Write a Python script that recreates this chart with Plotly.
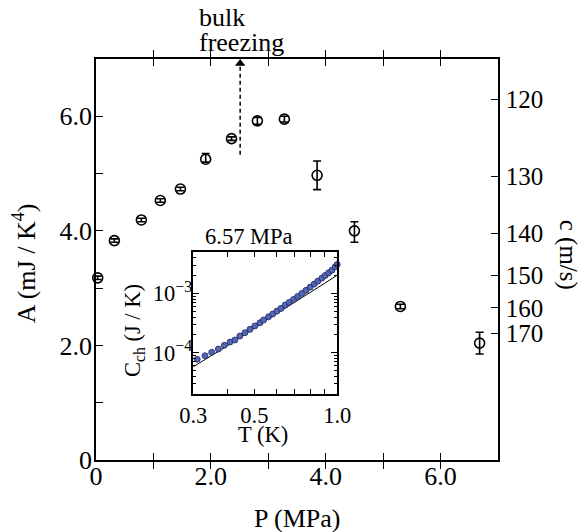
import math
import plotly.graph_objects as go

# ---------------- main data ----------------
P_MPA = [0.03, 0.32, 0.79, 1.12, 1.47, 1.91, 2.36, 2.81, 3.28, 3.85, 4.50, 5.30, 6.68]
A_VAL = [3.18, 3.83, 4.19, 4.53, 4.73, 5.25, 5.61, 5.92, 5.95, 4.97, 4.00, 2.68, 2.04]
A_ERR_PLUS = [0.03, 0.03, 0.03, 0.03, 0.03, 0.10, 0.03, 0.06, 0.05, 0.25, 0.16, 0.04, 0.19]
A_ERR_MINUS = [0.03, 0.03, 0.03, 0.03, 0.03, 0.05, 0.03, 0.06, 0.05, 0.25, 0.20, 0.04, 0.19]

P_TICKS = [0, 1, 2, 3, 4, 5, 6, 7]
P_TICKTEXT = ["0", "", "2.0", "", "4.0", "", "6.0", ""]
A_TICKS = [0, 1, 2, 3, 4, 5, 6, 7]
A_TICKTEXT = ["0", "", "2.0", "", "4.0", "", "6.0", ""]

# right axis: sound velocity c (A ~ c^-3, Debye)
C_TICKS = [120, 130, 140, 150, 160, 170]
A_AT_C120 = 6.29

# bulk freezing marker
P_FREEZE = 2.51
A_ARROW_START = 5.33
A_ARROW_END = 6.92

# ---------------- inset data ----------------
T_INSET = [0.310, 0.331, 0.350, 0.370, 0.389, 0.408, 0.425, 0.443, 0.462, 0.482,
           0.502, 0.524, 0.540, 0.563, 0.583, 0.604, 0.625, 0.647, 0.669, 0.694,
           0.718, 0.744, 0.770, 0.798, 0.825, 0.851, 0.880, 0.905, 0.931, 0.957,
           0.983, 1.000]
C_INSET = [7.74e-5, 8.89e-5, 1.016e-4, 1.153e-4, 1.334e-4, 1.514e-4, 1.637e-4, 1.910e-4,
           2.173e-4, 2.477e-4, 2.825e-4, 3.199e-4, 3.556e-4, 4.036e-4, 4.477e-4, 5.035e-4,
           5.585e-4, 6.353e-4, 7.047e-4, 7.925e-4, 8.892e-4, 1.000e-3, 1.125e-3, 1.276e-3,
           1.435e-3, 1.611e-3, 1.811e-3, 2.009e-3, 2.223e-3, 2.466e-3, 2.805e-3, 3.076e-3]
T_LINE = [0.3, 0.4, 0.5, 0.6, 0.7, 0.8, 0.9, 1.0]
C_LINE = [5.81e-5, 1.32e-4, 2.60e-4, 4.52e-4, 7.08e-4, 1.047e-3, 1.479e-3, 2.03e-3]

T_TICKS = [0.3, 0.4, 0.5, 0.6, 0.7, 0.8, 0.9, 1.0]
T_TICKTEXT = ["0.3", "", "0.5", "", "", "", "", "1.0"]
CCH_TICKS = [1e-4, 1e-3]
CCH_TICKTEXT = ["10<sup>\u22124</sup>", "10<sup>\u22123</sup>"]
CCH_MINOR = [m * 10.0 ** e for e in (-5, -4, -3) for m in range(2, 10)]

FONT = "Liberation Serif"
FS = 26
FS_RIGHT = 25
FS_IN = 22.5

fig = go.Figure()

# main data
fig.add_trace(go.Scatter(
    x=P_MPA, y=A_VAL, mode="markers", xaxis="x", yaxis="y",
    marker=dict(symbol="circle-open", size=10, color="black", line=dict(width=1.6, color="black")),
    error_y=dict(type="data", symmetric=False, array=A_ERR_PLUS, arrayminus=A_ERR_MINUS,
                 color="black", thickness=1.6, width=4),
    cliponaxis=False, showlegend=False, hoverinfo="skip"))

# bulk freezing dashed arrow
fig.add_trace(go.Scatter(
    x=[P_FREEZE, P_FREEZE], y=[A_ARROW_START, A_ARROW_END], mode="lines", xaxis="x", yaxis="y",
    line=dict(color="black", width=1.5, dash="4px,3px"), showlegend=False, hoverinfo="skip"))
fig.add_trace(go.Scatter(
    x=[P_FREEZE], y=[A_ARROW_END], mode="markers", xaxis="x", yaxis="y",
    marker=dict(symbol="triangle-up", size=9, color="black"), cliponaxis=False,
    showlegend=False, hoverinfo="skip"))

# dummy trace so right axis is drawn
fig.add_trace(go.Scatter(x=[None], y=[None], xaxis="x", yaxis="y2", showlegend=False))

# inset
fig.add_trace(go.Scatter(
    x=T_LINE, y=C_LINE, mode="lines", xaxis="x2", yaxis="y3",
    line=dict(color="black", width=1), line_shape="spline", showlegend=False, hoverinfo="skip"))
fig.add_trace(go.Scatter(
    x=T_INSET, y=C_INSET, mode="markers", xaxis="x2", yaxis="y3",
    marker=dict(symbol="circle", size=6, color="#5566b2", line=dict(width=0.8, color="#1c2566")),
    cliponaxis=False, showlegend=False, hoverinfo="skip"))

c_tick_pos = [A_AT_C120 * (120.0 / c) ** 3 for c in C_TICKS]

axis_common = dict(showgrid=False, zeroline=False, showline=True, linecolor="black", linewidth=1.5,
                   ticks="inside", tickcolor="black", tickwidth=1.3)
main_font = dict(family=FONT, size=FS, color="black")
right_font = dict(family=FONT, size=FS_RIGHT, color="black")
inset_font = dict(family=FONT, size=FS_IN, color="black")

fig.update_layout(
    width=583, height=532,
    margin=dict(l=96, r=85, t=59, b=72),
    paper_bgcolor="white", plot_bgcolor="white",
    font=dict(family=FONT, size=FS, color="black"),
    xaxis=dict(domain=[0, 1], range=[0, 7], tickmode="array", tickvals=P_TICKS, ticktext=P_TICKTEXT,
               ticklen=7, mirror="allticks", anchor="y", ticklabelstandoff=-8, tickfont=main_font,
               **axis_common),
    yaxis=dict(domain=[0, 1], range=[0, 7], tickmode="array", tickvals=A_TICKS, ticktext=A_TICKTEXT,
               ticklen=7, anchor="x", ticklabelstandoff=-3, tickfont=main_font, **axis_common),
    yaxis2=dict(overlaying="y", side="right", range=[0, 7], tickmode="array", tickvals=c_tick_pos,
                ticktext=[str(c) for c in C_TICKS], ticklen=7, anchor="x", ticklabelstandoff=1,
                tickfont=right_font, **axis_common),
    xaxis2=dict(domain=[0.242, 0.600], anchor="y3", type="log",
                range=[math.log10(0.3), 0], tickmode="array", tickvals=T_TICKS, ticktext=T_TICKTEXT,
                ticklen=5, mirror="allticks", tickfont=inset_font, **axis_common),
    yaxis3=dict(domain=[0.164, 0.519], anchor="x2", type="log",
                range=[-4.7, -2.3], tickmode="array", tickvals=CCH_TICKS, ticktext=CCH_TICKTEXT,
                ticklen=6, mirror="allticks", ticklabelstandoff=-5, tickfont=inset_font,
                minor=dict(tickmode="array", tickvals=CCH_MINOR, ticks="inside", ticklen=3,
                           tickcolor="black", tickwidth=1),
                **axis_common),
)

ann = [
    dict(text="P (MPa)", x=0.5, y=-0.145, xref="paper", yref="paper", showarrow=False,
         xanchor="center", yanchor="middle", font=main_font),
    dict(text="A (mJ / K<sup>4</sup>)", x=-0.179, y=0.491, xref="paper", yref="paper",
         showarrow=False, textangle=-90, xanchor="center", yanchor="middle", font=main_font),
    dict(text="c (m/s)", x=1.175, y=0.511, xref="paper", yref="paper",
         showarrow=False, textangle=90, xanchor="center", yanchor="middle", font=right_font),
    dict(text="bulk", x=0.251, y=1.103, xref="paper", yref="paper", showarrow=False,
         xanchor="left", yanchor="middle", font=main_font),
    dict(text="freezing", x=0.251, y=1.041, xref="paper", yref="paper", showarrow=False,
         xanchor="left", yanchor="middle", font=main_font),
    dict(text="6.57 MPa", x=0.381, y=0.557, xref="paper", yref="paper", showarrow=False,
         xanchor="center", yanchor="middle", font=inset_font),
    dict(text="T (K)", x=0.415, y=0.064, xref="paper", yref="paper", showarrow=False,
         xanchor="center", yanchor="middle", font=inset_font),
    dict(text="C<sub>ch</sub> (J / K)", x=0.0945, y=0.324, xref="paper", yref="paper",
         showarrow=False, textangle=-90, xanchor="center", yanchor="middle", font=inset_font),
]
fig.update_layout(annotations=ann)

fig.write_html("out.html", config={"displayModeBar": False},
               post_script="document.body.style.margin='0';")
